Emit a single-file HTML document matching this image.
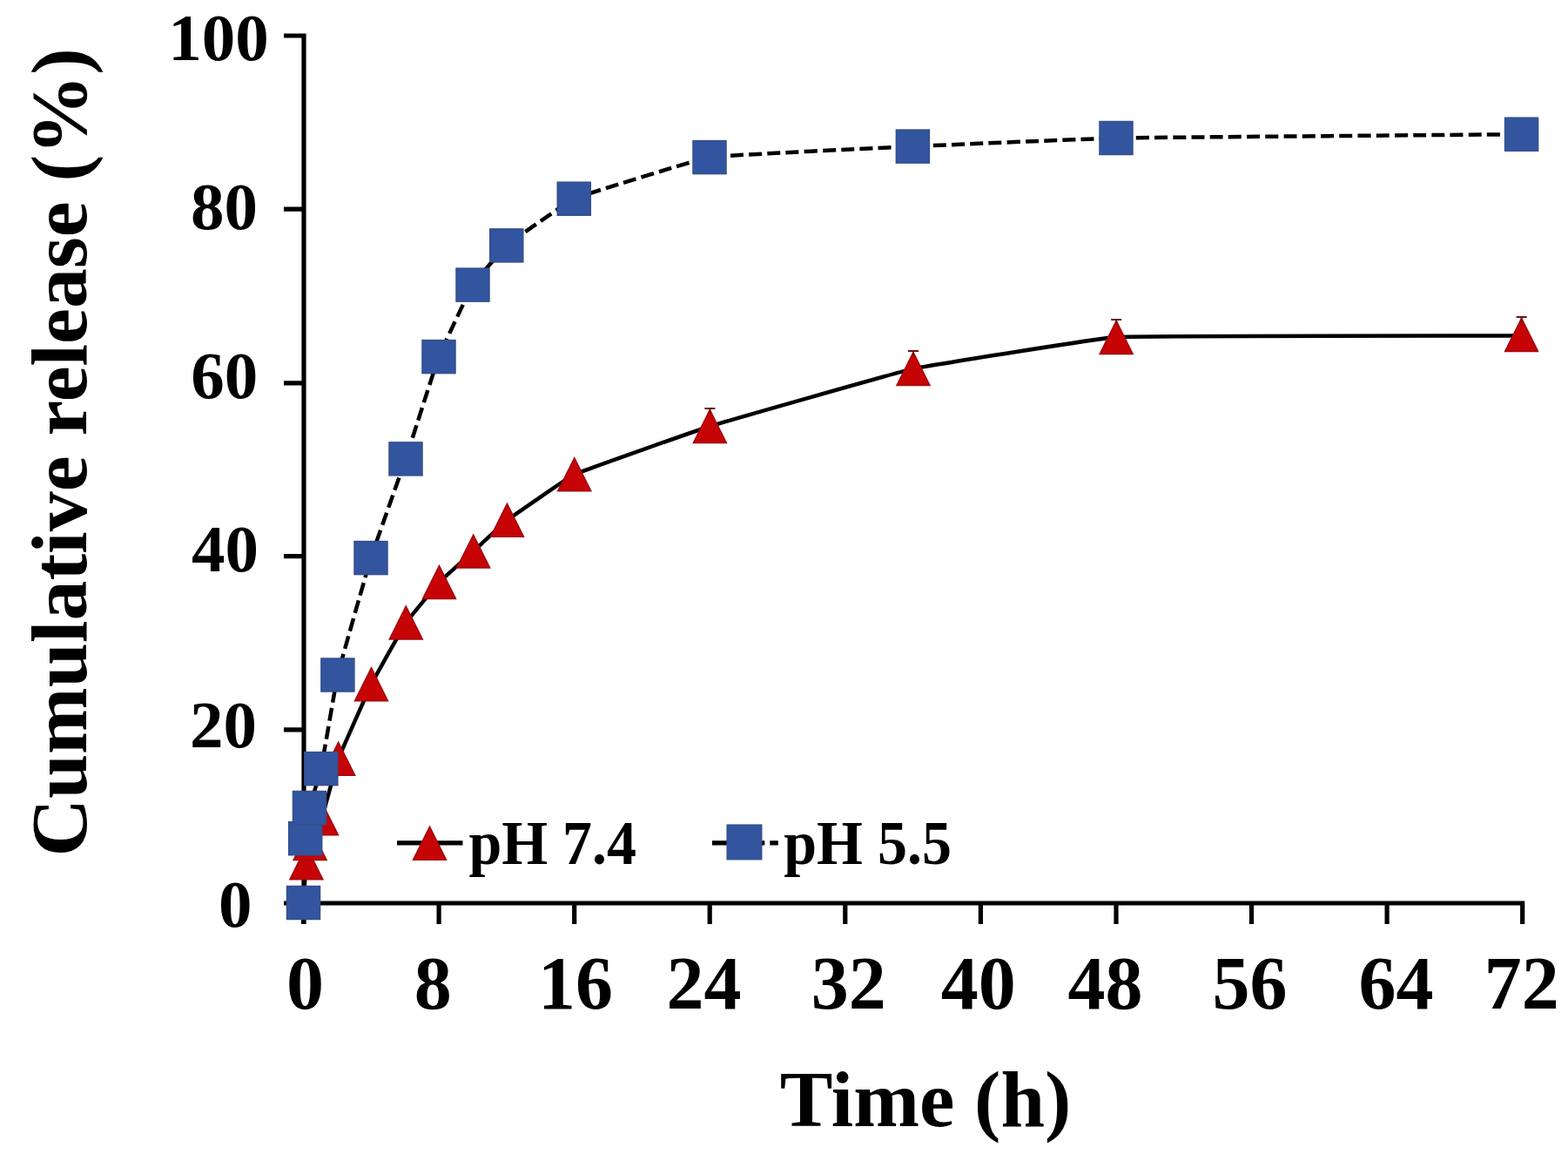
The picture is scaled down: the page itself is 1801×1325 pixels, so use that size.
<!DOCTYPE html>
<html><head><meta charset="utf-8"><title>Cumulative release</title>
<style>
html,body{margin:0;padding:0;background:#fff;}
body{width:1801px;height:1325px;overflow:hidden;}
svg{display:block;}
text{font-family:"Liberation Serif","Times New Roman",serif;font-weight:bold;fill:#000;}
</style></head><body>
<svg width="1801" height="1325" viewBox="0 0 1801 1325">
<rect width="1801" height="1325" fill="#fff"/>

<path d="M326,41.0 H349 V1037 H1748.7 V1061" fill="none" stroke="#000" stroke-width="5.2" stroke-linejoin="miter"/>
<path d="M326,240.2H349M326,439.8H349M326,638.6H349M326,837.8H349M326,1037.0H349M348.5,1037V1061M504.1,1037V1061M659.7,1037V1061M815.2,1037V1061M970.8,1037V1061M1126.4,1037V1061M1282.0,1037V1061M1437.5,1037V1061M1593.1,1037V1061" fill="none" stroke="#000" stroke-width="5.2"/>
<path d="M349,1034 V1061" stroke="#000" stroke-width="5.2"/>
<text x="193.3" y="69.3" font-size="77">100</text>
<text x="219.1" y="262.5" font-size="77">80</text>
<text x="219.3" y="457.1" font-size="77">60</text>
<text x="219.9" y="655.6" font-size="77">40</text>
<text x="217.9" y="858.3" font-size="77">20</text>
<text x="251.0" y="1064.4" font-size="77">0</text>
<text x="328.9" y="1158.4" font-size="86">0</text>
<text x="475.7" y="1158.4" font-size="86">8</text>
<text x="618.1" y="1158.1" font-size="86">16</text>
<text x="765.4" y="1158.1" font-size="86">24</text>
<text x="931.8" y="1158.1" font-size="86">32</text>
<text x="1080.7" y="1158.4" font-size="86">40</text>
<text x="1226.5" y="1158.4" font-size="86">48</text>
<text x="1392.5" y="1158.1" font-size="86">56</text>
<text x="1560.6" y="1158.1" font-size="86">64</text>
<text x="1704.7" y="1158.1" font-size="86">72</text>
<text x="895.8" y="1292.8" font-size="91">Time (h)</text>
<text transform="translate(98.5,983.5) rotate(-90)" x="0" y="0" font-size="92">Cumulative release (%)</text>
<path d="M348.5,1036.5 C348.7,1033.3 351.5,994.0 351.9,990.8 C352.1,989.2 355.6,970.1 356.1,968.6 C356.8,966.5 368.8,941.9 369.5,939.8 C371.1,935.1 387.0,876.0 388.7,871.3 C391.0,865.2 423.6,791.6 426.5,785.7 C429.0,780.6 463.2,719.7 466.3,715.0 C468.6,711.5 501.6,671.6 504.5,668.5 C507.0,665.8 541.0,635.6 543.7,633.1 C546.4,630.6 579.6,599.5 582.5,597.3 C587.7,593.3 653.9,547.5 659.8,544.8 C670.3,539.9 804.4,492.9 815.4,489.5 C831.6,484.4 1032.4,427.0 1049.0,423.4 C1065.1,419.9 1265.7,387.9 1282.2,387.0 C1314.7,385.2 1715.0,385.7 1747.6,385.6" fill="none" stroke="#000" stroke-width="4.5" stroke-linejoin="round"/>
<path d="M348.5,1036.5 C348.7,1031.3 350.4,967.9 350.7,962.7 C350.9,960.2 355.0,929.9 355.5,927.5 C356.2,924.3 368.1,885.8 368.8,882.6 C370.4,875.1 386.1,782.4 387.9,775.0 C390.1,765.5 423.1,649.9 426.0,640.6 C428.5,632.6 463.3,534.9 466.0,526.9 C468.8,518.7 500.9,417.7 504.0,409.6 C506.3,403.6 539.7,332.6 543.0,327.1 C545.2,323.5 578.6,284.6 581.8,281.9 C586.8,277.6 653.2,230.8 659.3,228.2 C669.8,223.7 803.7,182.3 815.0,180.6 C831.2,178.1 1032.1,168.9 1048.4,168.1 C1064.7,167.3 1265.6,158.8 1282.0,158.5 C1314.6,157.9 1715.0,154.5 1747.6,154.2" fill="none" stroke="#000" stroke-width="4.5" stroke-dasharray="15 6.2"/>
<path d="M351.9,971.8 L370.9,1009.8 L332.9,1009.8 Z" fill="#c60406" stroke="#a20a0c" stroke-width="1.5"/>
<path d="M356.1,949.6 L375.1,987.6 L337.1,987.6 Z" fill="#c60406" stroke="#a20a0c" stroke-width="1.5"/>
<path d="M369.5,920.8 L388.5,958.8 L350.5,958.8 Z" fill="#c60406" stroke="#a20a0c" stroke-width="1.5"/>
<path d="M388.7,852.3 L407.7,890.3 L369.7,890.3 Z" fill="#c60406" stroke="#a20a0c" stroke-width="1.5"/>
<path d="M426.5,766.7 L445.5,804.7 L407.5,804.7 Z" fill="#c60406" stroke="#a20a0c" stroke-width="1.5"/>
<path d="M466.3,696.0 L485.3,734.0 L447.3,734.0 Z" fill="#c60406" stroke="#a20a0c" stroke-width="1.5"/>
<path d="M504.5,649.5 L523.5,687.5 L485.5,687.5 Z" fill="#c60406" stroke="#a20a0c" stroke-width="1.5"/>
<path d="M543.7,614.1 L562.7,652.1 L524.7,652.1 Z" fill="#c60406" stroke="#a20a0c" stroke-width="1.5"/>
<path d="M582.5,578.3 L601.5,616.3 L563.5,616.3 Z" fill="#c60406" stroke="#a20a0c" stroke-width="1.5"/>
<path d="M659.8,525.8 L678.8,563.8 L640.8,563.8 Z" fill="#c60406" stroke="#a20a0c" stroke-width="1.5"/>
<path d="M815.4,470.5 L834.4,508.5 L796.4,508.5 Z" fill="#c60406" stroke="#a20a0c" stroke-width="1.5"/>
<path d="M1049.0,404.4 L1068.0,442.4 L1030.0,442.4 Z" fill="#c60406" stroke="#a20a0c" stroke-width="1.5"/>
<path d="M1282.2,368.4 L1301.2,406.4 L1263.2,406.4 Z" fill="#c60406" stroke="#a20a0c" stroke-width="1.5"/>
<path d="M1747.6,365.4 L1766.6,403.4 L1728.6,403.4 Z" fill="#c60406" stroke="#a20a0c" stroke-width="1.5"/>
<path d="M815.4,469.5 V474.5 M809.4,469.0 H821.4" stroke="#6b1418" stroke-width="2"/>
<path d="M1049.0,403.4 V408.4 M1043.0,402.9 H1055.0" stroke="#6b1418" stroke-width="2"/>
<path d="M1282.2,367.4 V372.4 M1276.2,366.9 H1288.2" stroke="#6b1418" stroke-width="2"/>
<path d="M1747.6,364.4 V369.4 M1741.6,363.9 H1753.6" stroke="#6b1418" stroke-width="2"/>
<rect x="329.5" y="1017.5" width="38.0" height="38.0" fill="#33559f" stroke="#344f8c" stroke-width="1.5"/>
<rect x="331.7" y="943.7" width="38.0" height="38.0" fill="#33559f" stroke="#344f8c" stroke-width="1.5"/>
<rect x="336.5" y="908.5" width="38.0" height="38.0" fill="#33559f" stroke="#344f8c" stroke-width="1.5"/>
<rect x="349.8" y="863.6" width="38.0" height="38.0" fill="#33559f" stroke="#344f8c" stroke-width="1.5"/>
<rect x="368.9" y="756.0" width="38.0" height="38.0" fill="#33559f" stroke="#344f8c" stroke-width="1.5"/>
<rect x="407.0" y="621.6" width="38.0" height="38.0" fill="#33559f" stroke="#344f8c" stroke-width="1.5"/>
<rect x="447.0" y="507.9" width="38.0" height="38.0" fill="#33559f" stroke="#344f8c" stroke-width="1.5"/>
<rect x="485.0" y="390.6" width="38.0" height="38.0" fill="#33559f" stroke="#344f8c" stroke-width="1.5"/>
<rect x="524.0" y="308.1" width="38.0" height="38.0" fill="#33559f" stroke="#344f8c" stroke-width="1.5"/>
<rect x="562.8" y="262.9" width="38.0" height="38.0" fill="#33559f" stroke="#344f8c" stroke-width="1.5"/>
<rect x="640.3" y="209.2" width="38.0" height="38.0" fill="#33559f" stroke="#344f8c" stroke-width="1.5"/>
<rect x="796.0" y="161.6" width="38.0" height="38.0" fill="#33559f" stroke="#344f8c" stroke-width="1.5"/>
<rect x="1029.4" y="149.1" width="38.0" height="38.0" fill="#33559f" stroke="#344f8c" stroke-width="1.5"/>
<rect x="1263.0" y="139.5" width="38.0" height="38.0" fill="#33559f" stroke="#344f8c" stroke-width="1.5"/>
<rect x="1728.6" y="135.2" width="38.0" height="38.0" fill="#33559f" stroke="#344f8c" stroke-width="1.5"/>
<path d="M456,967.8 H531.5" stroke="#000" stroke-width="5.2"/>
<path d="M493.5,949.2 L512.5,987.2 L474.5,987.2 Z" fill="#c60406" stroke="#a20a0c" stroke-width="1.5"/>
<path d="M818,967.9 H835 M874,967.9 H878.3 M884.3,967.9 H893.8" stroke="#000" stroke-width="5.2"/>
<rect x="835.2" y="947.2" width="39.5" height="39.5" fill="#33559f" stroke="#344f8c" stroke-width="1.5"/>
<text transform="translate(538.4,991.6) scale(1,1.05)" font-size="68">pH 7.4</text>
<text transform="translate(900.2,991.6) scale(1,1.05)" font-size="68">pH 5.5</text>
</svg></body></html>
